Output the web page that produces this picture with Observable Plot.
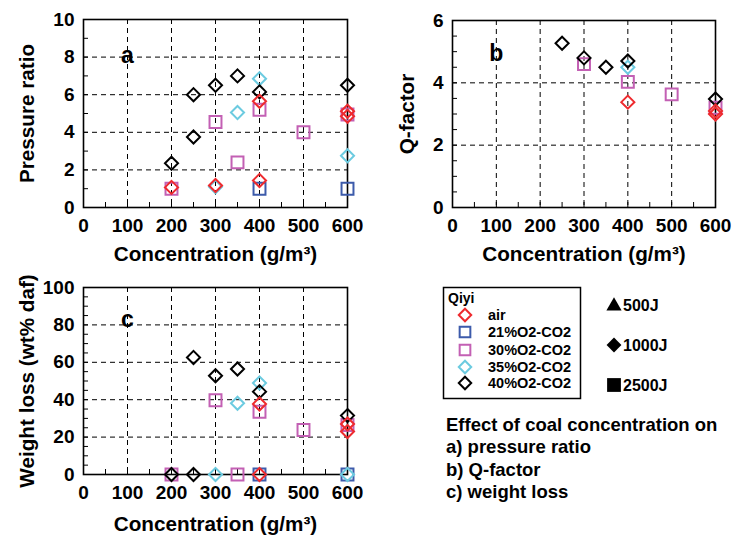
<!DOCTYPE html>
<html><head><meta charset="utf-8">
<script src="https://cdn.jsdelivr.net/npm/d3@7"></script>
<script src="https://cdn.jsdelivr.net/npm/@observablehq/plot@0.6"></script>
<style>
body{margin:0;background:#fff;}
#wrap{position:relative;width:733px;height:536px;font-family:"Liberation Sans",Arial,sans-serif;font-weight:bold;overflow:hidden;}
.pos{position:absolute;}
</style></head><body><div id="wrap"></div>
<script>
// ---- series ----
const seriesNames = ["air", "21%O2-CO2", "30%O2-CO2", "35%O2-CO2", "40%O2-CO2"];
const seriesColors = ["#ee2a2e", "#3d5bab", "#c360b4", "#6ccbe0", "#000000"];
const seriesShapes = ["diamond", "square", "square", "diamond", "diamond"];
const energyLabels = ["500J", "1000J", "2500J"];
const xTicks = [0, 100, 200, 300, 400, 500, 600];

// ---- (a) pressure ratio: [concentration, value] ----
const pressureAir = [[200, 1.07], [300, 1.17], [400, 1.44], [400, 5.65], [600, 4.85], [600, 5.12]];
const pressure21 = [[400, 1.0], [600, 1.0]];
const pressure30 = [[200, 1.0], [300, 4.55], [350, 2.4], [400, 5.2], [500, 4.0], [600, 4.95]];
const pressure35 = [[300, 1.1], [350, 5.05], [400, 6.85], [600, 2.75]];
const pressure40 = [[200, 2.35], [250, 3.75], [250, 6.0], [300, 6.5], [350, 7.0], [400, 6.15], [600, 6.5]];

// ---- (b) Q-factor ----
const qAir = [[400, 3.38], [600, 3.1], [600, 3.0]];
const q21 = [];
const q30 = [[300, 4.6], [400, 4.03], [500, 3.63], [600, 3.2]];
const q35 = [[400, 4.5]];
const q40 = [[250, 5.27], [300, 4.8], [350, 4.5], [400, 4.7], [600, 3.48]];

// ---- (c) weight loss ----
const wAir = [[400, 37.7], [400, 0], [600, 23], [600, 27]];
const w21 = [[400, 0], [600, 0]];
const w30 = [[200, 0], [300, 39.7], [350, 0], [400, 33.6], [500, 23.8], [600, 26.5]];
const w35 = [[300, 0], [350, 38.1], [400, 48.9], [600, 0]];
const w40 = [[200, 0], [250, 0], [250, 62.6], [300, 52.8], [350, 56.4], [400, 44.3], [600, 31.5]];

const captionLines = ["Effect of coal concentration on", "a) pressure ratio", "b) Q-factor", "c) weight loss"];

const FONT = '"Liberation Sans", Arial, sans-serif';
const wrap = document.getElementById("wrap");

function toRows(lists) {
  const rows = [];
  // drawing order: blue, magenta, cyan, black, red
  const order = [1, 2, 3, 4, 0];
  for (const i of order) for (const [x, y] of lists[i]) rows.push({s: seriesNames[i], shape: seriesShapes[i], x, y});
  return rows;
}

function panel(cfg) {
  const rows = toRows(cfg.lists);
  const [y0, y1] = cfg.yDomain;
  const plotH = cfg.height - cfg.mt - cfg.mb;
  const plotW = cfg.width - cfg.ml - cfg.mr;
  const yLen = 5 * (y1 - y0) / plotH;
  const xLen = 5 * 600 / plotW;
  const xGrid = [100, 200, 300, 400, 500];
  const xMinor = d3.range(50, 600, 50);
  const dash = {stroke: "black", strokeWidth: 1, strokeDasharray: "5,4"};
  const svg = Plot.plot({
    width: cfg.width, height: cfg.height,
    marginLeft: cfg.ml, marginRight: cfg.mr, marginTop: cfg.mt, marginBottom: cfg.mb,
    style: {fontFamily: FONT, fontWeight: "bold", fontSize: "19px", background: "transparent", overflow: "visible", color: "black"},
    x: {domain: [0, 600], ticks: xTicks, tickFormat: "d", tickSize: 0, tickPadding: 11, label: null},
    y: {domain: cfg.yDomain, ticks: cfg.yTicks, tickFormat: "d", tickSize: 0, tickPadding: 9, label: null},
    color: {domain: seriesNames, range: seriesColors},
    marks: [
      Plot.ruleX(xGrid, dash),
      Plot.ruleY(cfg.yGrid, dash),
      Plot.ruleX(xMinor, {x: d => d, y1: y0, y2: y0 + yLen, stroke: "black", strokeWidth: 1}),
      Plot.ruleY(cfg.yMinor, {y: d => d, x1: 0, x2: xLen, stroke: "black", strokeWidth: 1}),
      Plot.frame({stroke: "black", strokeWidth: 1.6}),
      Plot.dot(rows.filter(d => d.shape === "square"), {x: "x", y: "y", stroke: "s", symbol: "square2", r: 7.6, strokeWidth: 2, fill: "none"}),
      Plot.dot(rows.filter(d => d.shape === "diamond"), {x: "x", y: "y", stroke: "s", symbol: "diamond2", r: 5.9, strokeWidth: 2, fill: "none"}),
      Plot.text([cfg.letter], {x: () => 100, y: () => cfg.letterY, text: d => d, fontSize: 23, fontWeight: "bold", fill: "black"}),
      Plot.text(["Concentration (g/m³)"], {frameAnchor: "bottom", dy: cfg.xTitleDy, textAnchor: "middle", lineAnchor: "bottom", text: d => d, fontSize: 20.7, fontWeight: "bold", fill: "black"}),
      Plot.text([cfg.yLabel], {frameAnchor: "left", dx: cfg.yTitleDx, rotate: -90, textAnchor: "middle", lineAnchor: "middle", text: d => d, fontSize: 20.7, fontWeight: "bold", fill: "black"})
    ]
  });
  svg.classList.add("pos");
  svg.style.left = cfg.left + "px";
  svg.style.top = cfg.top + "px";
  wrap.appendChild(svg);
}

panel({left: 0, top: 0, width: 370, height: 270, ml: 83, mr: 23, mt: 19, mb: 63,
  lists: [pressureAir, pressure21, pressure30, pressure35, pressure40],
  yDomain: [0, 10], yTicks: [0, 2, 4, 6, 8, 10], yGrid: [2, 4, 6, 8], yMinor: d3.range(1, 10, 1),
  yLabel: "Pressure ratio", yTitleDx: -56, xTitleDy: 53, letter: "a", letterY: 8.1});

panel({left: 370, top: 0, width: 363, height: 270, ml: 82, mr: 18, mt: 20, mb: 63,
  lists: [qAir, q21, q30, q35, q40],
  yDomain: [0, 6], yTicks: [0, 2, 4, 6], yGrid: [2, 4], yMinor: d3.range(0.5, 6, 0.5),
  yLabel: "Q-factor", yTitleDx: -45, xTitleDy: 53, letter: "b", letterY: 4.95});

panel({left: 0, top: 270, width: 370, height: 266, ml: 83, mr: 23, mt: 17, mb: 62,
  lists: [wAir, w21, w30, w35, w40],
  yDomain: [0, 100], yTicks: [0, 20, 40, 60, 80, 100], yGrid: [20, 40, 60, 80], yMinor: d3.range(5, 100, 5),
  yLabel: "Weight loss (wt% daf)", yTitleDx: -56, xTitleDy: 56, letter: "c", letterY: 83});

// ---- legend ----
const lg = d3.create("svg").attr("width", 733).attr("height", 536)
  .style("position", "absolute").style("left", "0px").style("top", "0px")
  .style("font-family", FONT).style("font-weight", "bold");
lg.append("rect").attr("x", 443.5).attr("y", 287.5).attr("width", 137).attr("height", 111)
  .attr("fill", "white").attr("stroke", "black").attr("stroke-width", 1.5);
lg.append("text").attr("x", 448).attr("y", 303).attr("font-size", 14).text("Qiyi");
const rowY = [315, 332, 350, 367, 383];
seriesNames.forEach((name, i) => {
  const isSq = seriesShapes[i] === "square";
  const sym = d3.symbol().type(isSq ? d3.symbolSquare2 : d3.symbolDiamond2).size(Math.PI * (isSq ? 6.8 : 5.6) ** 2);
  lg.append("path").attr("d", sym()).attr("transform", `translate(465,${rowY[i]})`)
    .attr("fill", "none").attr("stroke", seriesColors[i]).attr("stroke-width", 2);
  lg.append("text").attr("x", 488).attr("y", rowY[i] + 5).attr("font-size", 14.5).text(name);
});
const eY = [305, 345, 385];
const eSym = [d3.symbolTriangle, d3.symbolDiamond2, d3.symbolSquare];
const eSize = [100, 140, 190];
energyLabels.forEach((t, i) => {
  lg.append("path").attr("d", d3.symbol().type(eSym[i]).size(eSize[i])()).attr("transform", `translate(614,${eY[i] + (i === 0 ? 1 : 0)})`).attr("fill", "black");
  lg.append("text").attr("x", 623).attr("y", eY[i] + 6).attr("font-size", 16).text(t);
});
captionLines.forEach((t, i) => {
  lg.append("text").attr("x", 446).attr("y", 431 + i * 22.3).attr("font-size", 18.5).text(t);
});
wrap.appendChild(lg.node());
</script></body></html>
